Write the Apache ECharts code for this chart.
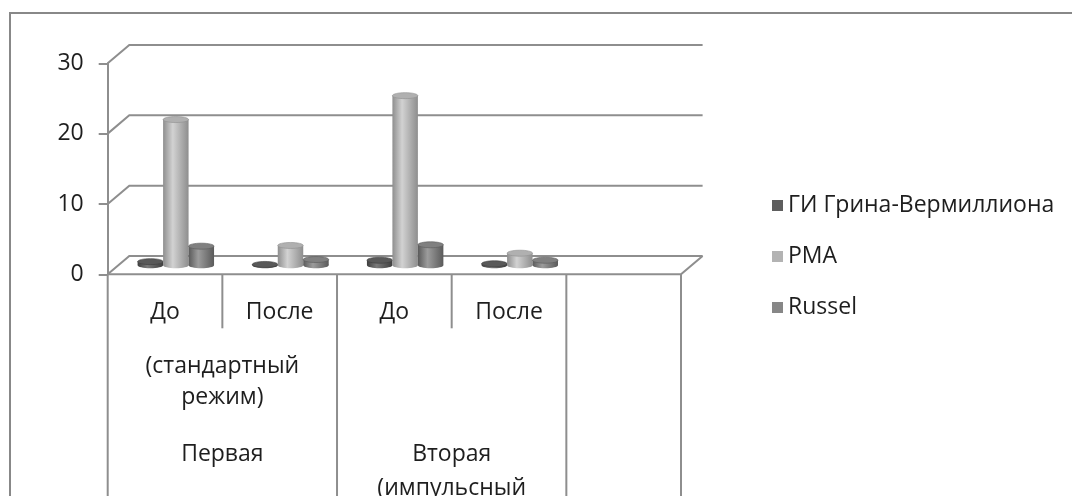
<!DOCTYPE html>
<html>
<head>
<meta charset="utf-8">
<script src="https://cdn.jsdelivr.net/npm/echarts@6/dist/echarts.min.js"></script>
<style>
  html, body { margin: 0; padding: 0; background: #ffffff; }
  #chart { width: 1072px; height: 496px; }
</style>
</head>
<body>
<div id="chart"></div>
<script>
// Category levels (inner to outer)
const periods = ['До', 'После', 'До', 'После', ''];
const modeLabels = ['(стандартный\nрежим)', ''];
const stageLabels = ['Первая', 'Вторая\n(импульсный\nрежим)'];

// Series
const seriesNames = ['ГИ Грина-Вермиллиона', 'РМА', 'Russel'];
const giValues = [0.5, 0.1, 0.7, 0.2, null];
const pmaValues = [20.7, 2.8, 24.1, 1.7, null];
const russelValues = [2.7, 0.8, 2.9, 0.7, null];

// Value axis
const yTicks = [0, 10, 20, 30];

// ---- styling ----
const FONT = '"Open Sans", "Noto Sans", sans-serif';
const FS = 23;
const TEXT = '#1e1e1e';
const LINE = '#8e8e8e';
const DX = 21.6, DY = -18.3;           // depth of the 3-D box (back wall offset)
const GAP_RATIO = 4.5;                 // band / bar width (gap 150%)

const palette = [
  { legend: '#5e5e5e', edge: '#3e3e3e', light: '#7a7a7a', top: '#595959' },
  { legend: '#b3b3b3', edge: '#8e8e8e', light: '#d2d2d2', top: '#b0b0b0' },
  { legend: '#878787', edge: '#5a5a5a', light: '#9c9c9c', top: '#808080' }
];

function cylinderRenderer(s) {
  const col = palette[s];
  return function (params, api) {
    const val = api.value(1);
    if (val == null || isNaN(val)) return null;
    const cat = api.value(0);
    const band = api.size([1, 0])[0];
    const w = band / GAP_RATIO;
    const base = api.coord([cat, 0]);
    const top = api.coord([cat, val]);
    const cx = base[0] + (s - 1) * w + DX / 2;
    const baseY = base[1] + DY / 2;
    const topY = top[1] + DY / 2;
    const rx = w / 2, ry = 3;
    const grad = new echarts.graphic.LinearGradient(0, 0, 1, 0, [
      { offset: 0, color: col.edge },
      { offset: 0.38, color: col.light },
      { offset: 1, color: col.edge }
    ]);
    return {
      type: 'group',
      children: [
        { type: 'ellipse', shape: { cx: cx, cy: baseY, rx: rx, ry: ry }, style: { fill: grad } },
        { type: 'rect', shape: { x: cx - rx, y: topY, width: w, height: Math.max(0, baseY - topY) }, style: { fill: grad } },
        { type: 'ellipse', shape: { cx: cx, cy: topY, rx: rx, ry: ry },
          style: { fill: col.top, stroke: col.edge, lineWidth: 0.6 } }
      ]
    };
  };
}

function frameRenderer(params, api) {
  const band = api.size([1, 0])[0];
  const c0 = api.coord([0, 0]);
  const x0 = c0[0] - band / 2;
  const n = periods.length;
  const x1 = x0 + n * band;
  const y0 = c0[1];
  const st = { stroke: LINE, lineWidth: 2, fill: null };
  const kids = [];
  // back wall grid lines with their depth diagonals
  yTicks.forEach(function (v) {
    const y = api.coord([0, v])[1];
    kids.push({ type: 'polyline', shape: { points: [[x0, y], [x0 + DX, y + DY], [x1 + DX, y + DY]] }, style: st });
  });
  // floor front edge and right side
  kids.push({ type: 'polyline', shape: { points: [[x0, y0], [x1, y0], [x1 + DX, y0 + DY]] }, style: st });
  // category dividers
  for (let k = 0; k <= n; k++) {
    const x = x0 + k * band;
    const inner = (k === 1 || k === 3);
    kids.push({ type: 'line', shape: { x1: x, y1: y0, x2: x, y2: inner ? y0 + 54 : y0 + 400 }, style: st });
  }
  return { type: 'group', children: kids };
}

const chart = echarts.init(document.getElementById('chart'), null, { renderer: 'canvas' });

const catIdx = periods.map(function (_, i) { return i; });
function pairs(arr) { return arr.map(function (v, i) { return [catIdx[i], v]; }); }

const hiddenValueAxis = function (labels, margin, lineHeight) {
  return {
    type: 'value', position: 'bottom', gridIndex: 0,
    min: 0, max: periods.length, interval: 1,
    axisLine: { show: false }, axisTick: { show: false }, splitLine: { show: false },
    axisLabel: {
      margin: margin, fontFamily: FONT, fontSize: FS, color: TEXT,
      lineHeight: lineHeight, verticalAlign: 'top', showMinLabel: true, showMaxLabel: true,
      formatter: function (v) {
        if (v === 1) return labels[0];
        if (v === 3) return labels[1];
        return '';
      }
    }
  };
};

chart.setOption({
  animation: false,
  backgroundColor: '#ffffff',
  graphic: [{
    type: 'rect', silent: true, z: 0,
    shape: { x: 10, y: 13, width: 1200, height: 700 },
    style: { fill: null, stroke: '#888888', lineWidth: 2 }
  }],
  grid: { left: 107.7, top: 63.3, width: 573.3, height: 211, containLabel: false, outerBoundsMode: 'none' },
  legend: {
    orient: 'vertical', left: 772, top: 194, itemWidth: 11, itemHeight: 11, itemGap: 28,
    icon: 'rect', padding: 0,
    data: seriesNames,
    textStyle: { fontFamily: FONT, fontSize: FS, color: TEXT }
  },
  xAxis: [
    {
      type: 'category', data: periods, gridIndex: 0, position: 'bottom',
      axisLine: { show: false }, axisTick: { show: false }, splitLine: { show: false },
      axisLabel: { interval: 0, margin: 27, verticalAlign: 'top', fontFamily: FONT, fontSize: FS, color: TEXT }
    },
    hiddenValueAxis(modeLabels, 77, 31),
    hiddenValueAxis(stageLabels, 163, 34)
  ],
  yAxis: {
    type: 'value', min: 0, max: 30, interval: 10,
    axisLine: { show: true, lineStyle: { color: LINE, width: 2 } },
    axisTick: { show: true, length: 9, lineStyle: { color: LINE, width: 2 } },
    splitLine: { show: false },
    axisLabel: { margin: 24, fontFamily: FONT, fontSize: FS, color: TEXT }
  },
  series: [
    { type: 'custom', name: '_frame', silent: true, z: 1, xAxisIndex: 0, yAxisIndex: 0,
      renderItem: frameRenderer, data: [[0, 0]] },
    { type: 'custom', name: seriesNames[0], z: 3, xAxisIndex: 0, yAxisIndex: 0,
      itemStyle: { color: palette[0].legend }, renderItem: cylinderRenderer(0), data: pairs(giValues) },
    { type: 'custom', name: seriesNames[1], z: 3, xAxisIndex: 0, yAxisIndex: 0,
      itemStyle: { color: palette[1].legend }, renderItem: cylinderRenderer(1), data: pairs(pmaValues) },
    { type: 'custom', name: seriesNames[2], z: 3, xAxisIndex: 0, yAxisIndex: 0,
      itemStyle: { color: palette[2].legend }, renderItem: cylinderRenderer(2), data: pairs(russelValues) }
  ]
});
</script>
</body>
</html>
